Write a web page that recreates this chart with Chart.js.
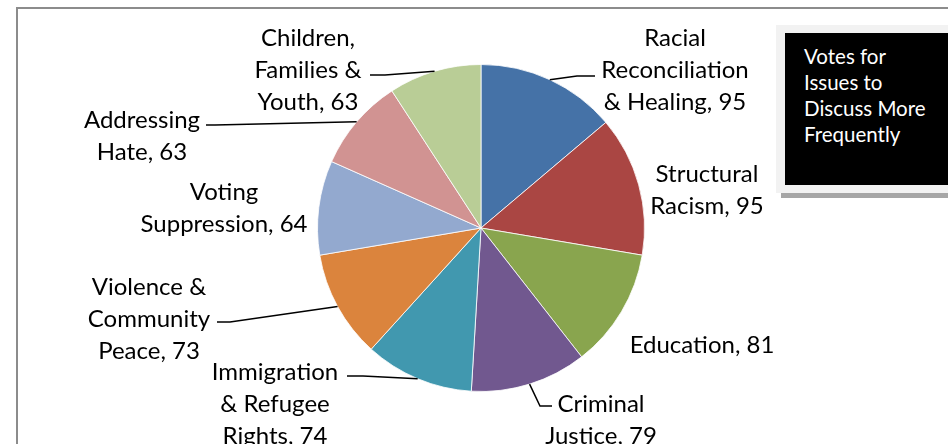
<!DOCTYPE html>
<html>
<head>
<meta charset="utf-8">
<script src="https://cdn.jsdelivr.net/npm/chart.js@4.4.1/dist/chart.umd.min.js"></script>
<style>
  html, body { margin: 0; padding: 0; background: #fff; overflow: hidden; }
  #wrap { position: relative; width: 948px; height: 444px; overflow: hidden; }
  #frame {
    position: absolute; left: 16px; top: 7px; width: 1000px; height: 500px;
    border: 2px solid #8c8c8c; box-sizing: border-box;
  }
  canvas { position: absolute; left: 0; top: 0; }
  #titleShadow {
    position: absolute; left: 781px; top: 26px; width: 200px; height: 172px;
    background: #a6a6a6;
  }
  #titleBox {
    position: absolute; left: 776px; top: 25px; width: 200px; height: 168px;
    background: #f2f2f2; box-sizing: border-box; padding: 8px 0 0 9px;
  }
  #titleInner {
    width: 100%; height: 152px; background: #000; color: #fff;
    font-family: Lato, sans-serif; font-size: 20.5px; line-height: 26px;
    padding: 10px 0 0 19px; box-sizing: border-box;
  }
</style>
</head>
<body>
<div id="wrap">
  <div id="frame"></div>
  <canvas id="pie" width="948" height="444"></canvas>
  <div id="titleShadow"></div>
  <div id="titleBox"><div id="titleInner">Votes for<br>Issues to<br>Discuss More<br>Frequently</div></div>
</div>
<script>
// data
const categories = [
  ['Racial', 'Reconciliation', '& Healing, 95'],
  ['Structural', 'Racism, 95'],
  ['Education, 81'],
  ['Criminal', 'Justice, 79'],
  ['Immigration', '& Refugee', 'Rights, 74'],
  ['Violence &', 'Community', 'Peace, 73'],
  ['Voting', 'Suppression, 64'],
  ['Addressing', 'Hate, 63'],
  ['Children,', 'Families &', 'Youth, 63']
];
const votes = [95, 95, 81, 79, 74, 73, 64, 63, 63];
const sliceColors = ['#4572a7', '#aa4643', '#89a54e', '#71588f', '#4198af',
                     '#db843d', '#93a9cf', '#d19392', '#b9cd96'];

// label placement (centre x, first line y) and leader line (elbow, end) per slice
const labelLayout = [
  { x: 675, y: 38, elbow: [577, 76], end: [595, 76] },
  { x: 707, y: 174 },
  { x: 702, y: 345 },
  { x: 601, y: 404, elbow: [540, 406], end: [552, 406] },
  { x: 275, y: 372, elbow: [363, 376], end: [347, 376] },
  { x: 149, y: 287, elbow: [230, 322], end: [217, 322] },
  { x: 224, y: 192 },
  { x: 142, y: 120, elbow: [215, 125], end: [206, 125] },
  { x: 308, y: 38, elbow: [385, 75], end: [370, 75] }
];

const pieLabels = {
  id: 'pieLabels',
  afterDatasetsDraw(chart) {
    const ctx = chart.ctx;
    const arcs = chart.getDatasetMeta(0).data;
    ctx.save();
    ctx.strokeStyle = '#000';
    ctx.lineWidth = 1.5;
    arcs.forEach((arc, i) => {
      const lay = labelLayout[i];
      if (lay.elbow) {
        const mid = (arc.startAngle + arc.endAngle) / 2;
        const sx = arc.x + Math.cos(mid) * arc.outerRadius;
        const sy = arc.y + Math.sin(mid) * arc.outerRadius;
        ctx.beginPath();
        ctx.moveTo(sx, sy);
        ctx.lineTo(lay.elbow[0], lay.elbow[1]);
        ctx.lineTo(lay.end[0], lay.end[1]);
        ctx.stroke();
      }
      ctx.fillStyle = '#000';
      ctx.font = '24px Lato, sans-serif';
      ctx.textAlign = 'center';
      ctx.textBaseline = 'middle';
      categories[i].forEach((line, j) => {
        ctx.fillText(line, lay.x, lay.y + j * 32);
      });
    });
    ctx.restore();
  }
};

new Chart(document.getElementById('pie'), {
  type: 'pie',
  data: {
    labels: categories.map(c => c.join(' ')),
    datasets: [{
      data: votes,
      backgroundColor: sliceColors,
      borderColor: 'rgba(255,255,255,0.8)',
      borderWidth: 1
    }]
  },
  options: {
    responsive: false,
    animation: false,
    devicePixelRatio: 1,
    layout: { padding: { left: 317, right: 303, top: 64, bottom: 52 } },
    plugins: {
      legend: { display: false },
      tooltip: { enabled: false },
      title: { display: false }
    }
  },
  plugins: [pieLabels]
});
</script>
</body>
</html>
